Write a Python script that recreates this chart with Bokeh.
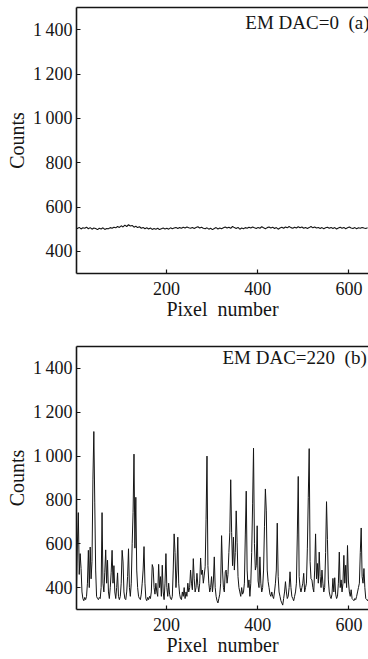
from bokeh.plotting import figure
from bokeh.layouts import column
from bokeh.models import Range1d, FixedTicker, Label, LinearAxis
from bokeh.embed import file_html
from bokeh.resources import INLINE

# ---------------- data ----------------
x_ticks = [200, 400, 600]
y_ticks = [400, 600, 800, 1000, 1200, 1400]
y_tick_labels = ["400", "600", "800", "1\u2009000", "1\u2009200", "1\u2009400"]

label_a = "EM DAC=0 \u00a0(a)"
label_b = "EM DAC=220 \u00a0(b)"
x_title = "Pixel \u00a0number"
y_title = "Counts"

# panel (a): EM DAC = 0, pixel step 4
pixel_a = list(range(1, 642, 4))
counts_a = [
    505, 503, 508, 501, 506, 504, 509, 502, 507, 500, 505, 503, 498, 504, 501, 506, 499, 503, 502, 507,
    504, 509, 506, 512, 508, 515, 510, 518, 512, 520, 514, 517, 509, 513, 507, 511, 504, 508, 502, 506,
    501, 505, 499, 503, 500, 504, 498, 502, 505, 501, 504, 500, 506, 502, 505, 508, 503, 507, 504, 509,
    505, 510, 506, 504, 508, 503, 507, 511, 505, 509, 504, 502, 506, 500, 504, 498, 503, 507, 501, 505,
    502, 506, 510, 505, 509, 504, 512, 507, 503, 508, 500, 505, 502, 507, 504, 509, 505, 510, 506, 503,
    508, 504, 511, 506, 502, 507, 510, 505, 509, 503, 507, 500, 505, 509, 504, 510, 506, 512, 507, 504,
    509, 505, 511, 506, 510, 504, 508, 503, 507, 512, 506, 510, 505, 508, 503, 507, 502, 506, 509, 504,
    508, 503, 507, 501, 505, 509, 504, 508, 502, 506, 510, 505, 503, 507, 502, 506, 504, 508, 505, 503,
    506,
]

# panel (b): EM DAC = 220, pixel step 2
pixel_b = list(range(1, 646, 2))
counts_b = [
    420, 380, 600, 742, 460, 555, 487, 380, 350, 340, 355, 345, 360, 420, 570, 400, 585, 440, 520, 895,
    1112, 790, 480, 360, 350, 345, 355, 350, 400, 742, 420, 380, 470, 572, 420, 525, 380, 350, 400, 470,
    570, 420, 500, 380, 350, 400, 467, 360, 345, 360, 420, 570, 517, 380, 350, 345, 380, 450, 577, 400,
    360, 420, 600, 742, 1009, 580, 812, 480, 400, 360, 350, 345, 370, 420, 480, 587, 420, 350, 340, 355,
    345, 360, 350, 380, 505, 490, 400, 370, 420, 380, 360, 506, 400, 450, 360, 502, 380, 345, 420, 555,
    400, 360, 420, 370, 350, 345, 360, 480, 645, 560, 400, 480, 630, 420, 370, 350, 345, 380, 360, 400,
    350, 380, 360, 420, 380, 400, 480, 420, 390, 532, 440, 380, 400, 465, 410, 380, 420, 535, 460, 480,
    420, 457, 495, 712, 1000, 500, 420, 380, 400, 450, 380, 430, 540, 400, 360, 340, 330, 350, 370, 420,
    637, 480, 400, 380, 472, 480, 420, 460, 560, 650, 892, 652, 500, 630, 480, 560, 750, 607, 450, 400,
    380, 360, 400, 370, 380, 420, 640, 840, 480, 400, 435, 360, 420, 560, 782, 1036, 600, 480, 500, 682,
    430, 400, 540, 420, 380, 400, 480, 680, 850, 750, 480, 427, 400, 370, 360, 380, 360, 350, 380, 420,
    480, 694, 450, 380, 360, 340, 330, 320, 350, 380, 427, 380, 350, 360, 400, 472, 400, 360, 350, 340,
    360, 380, 420, 640, 907, 450, 400, 380, 400, 420, 465, 380, 400, 420, 580, 810, 1034, 520, 440, 435,
    400, 380, 480, 645, 440, 510, 420, 562, 450, 400, 480, 420, 380, 400, 560, 792, 620, 435, 380, 360,
    350, 370, 442, 380, 445, 370, 350, 360, 420, 562, 400, 435, 380, 420, 547, 420, 502, 400, 592, 430,
    380, 360, 390, 350, 345, 340, 350, 345, 360, 380, 400, 420, 560, 672, 450, 420, 487, 400, 350, 345,
    340, 350, 345,
]

FONT = "Liberation Serif, 'Times New Roman', 'DejaVu Serif', serif"
INK = "#151515"


def make_panel(height, border_top, border_bottom, xs, ys, text, text_x, text_y, line_width):
    p = figure(width=368, height=height,
               x_range=Range1d(3, 643), y_range=Range1d(300, 1500),
               output_backend="svg", toolbar_location=None,
               min_border_left=76, min_border_right=0,
               min_border_top=border_top, min_border_bottom=border_bottom)
    p.line(xs, ys, line_color=INK, line_width=line_width)
    p.xgrid.visible = False
    p.ygrid.visible = False
    p.outline_line_color = None
    p.background_fill_color = "white"
    p.border_fill_color = "white"

    bottom = p.below[0]
    left = p.left[0]

    top = LinearAxis(ticker=FixedTicker(ticks=[]), major_label_standoff=0,
                     major_tick_in=0, major_tick_out=0, minor_tick_in=0, minor_tick_out=0,
                     major_label_text_font_size="0px")
    top.minor_tick_line_color = None
    top.major_tick_line_color = None
    top.axis_line_width = 1.6
    top.axis_line_color = INK
    p.add_layout(top, "above")

    for ax in (bottom, left):
        ax.axis_line_width = 1.6
        ax.axis_line_color = INK
        ax.major_tick_in = 4
        ax.major_tick_out = 0
        ax.minor_tick_line_color = None
        ax.major_tick_line_color = INK
        ax.major_tick_line_width = 1.2
        ax.major_label_text_font = FONT
        ax.major_label_text_font_size = "18px"
        ax.major_label_text_color = INK
        ax.axis_label_text_font = FONT
        ax.axis_label_text_font_size = "20px"
        ax.axis_label_text_font_style = "normal"
        ax.axis_label_text_color = INK

    bottom.ticker = FixedTicker(ticks=x_ticks)
    left.ticker = FixedTicker(ticks=y_ticks)
    left.major_label_overrides = {t: s for t, s in zip(y_ticks, y_tick_labels)}
    bottom.major_label_standoff = 8
    bottom.axis_label_standoff = 0
    left.major_label_standoff = 4
    left.axis_label_standoff = 2
    bottom.axis_label = x_title
    left.axis_label = y_title
    p.add_layout(Label(x=text_x, y=text_y, text=text, text_font=FONT,
                       text_font_size="19px", text_color=INK, text_baseline="middle"))
    return p


pa = make_panel(329, 7, 56, pixel_a, counts_a, label_a, 373, 1432, 1.1)
pb = make_panel(329, 17, 48, pixel_b, counts_b, label_b, 323, 1452, 1.0)

layout = column(pa, pb, spacing=0)
open("out.html", "w").write(file_html(layout, INLINE))
